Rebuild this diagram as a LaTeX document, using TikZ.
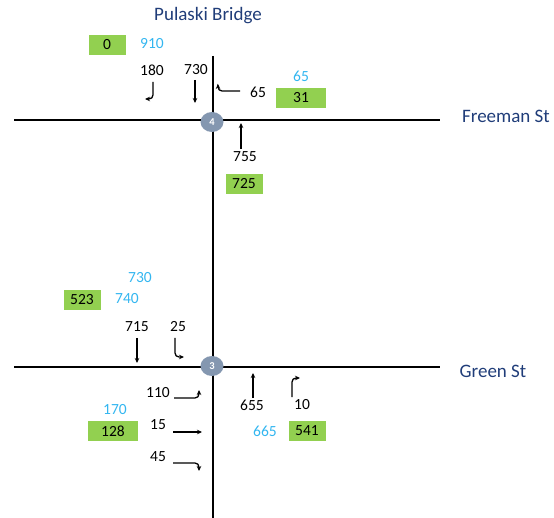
\documentclass[tikz,border=0pt]{standalone}
\usepackage{fontspec}
\setmainfont{Carlito}
\usetikzlibrary{arrows.meta, positioning, shapes.geometric}
\definecolor{streetblue}{HTML}{203D79}
\definecolor{countblue}{HTML}{33B6F0}
\definecolor{boxgreen}{HTML}{92D050}
\definecolor{nodegray}{HTML}{8497B0}

\begin{document}
\begin{tikzpicture}[x=1pt, y=-1pt,
    road/.style={line width=1.8pt},
    street/.style={text=streetblue, font=\fontsize{19}{22}\selectfont},
    count/.style={font=\fontsize{15.5}{17}\selectfont, inner sep=0pt},
    bluecount/.style={count, text=countblue},
    greenbox/.style={fill=boxgreen, minimum width=37pt, minimum height=20pt, inner sep=0pt, font=\fontsize{15.5}{17}\selectfont},
    widebox/.style={greenbox, minimum width=50pt},
    junction/.style={ellipse, fill=nodegray, minimum width=23pt, minimum height=20pt, inner sep=0pt, text=white, font=\bfseries\fontsize{10.5}{11}\selectfont},
    turn/.style={-{Stealth[length=5pt, width=4.5pt]}, line width=1.3pt, rounded corners=4pt}
]
    \useasboundingbox (0,0) rectangle (554,518);

    % Roads
    \coordinate (nTop) at (213,56);
    \coordinate (nBot) at (213,518);
    \coordinate (fW) at (14,120);
    \coordinate (fE) at (440,120);
    \coordinate (gW) at (14,367);
    \coordinate (gE) at (440,367);
    \draw[road] (nTop) -- (nBot);
    \draw[road] (fW) -- (fE);
    \draw[road] (gW) -- (gE);

    \node[junction] (j4) at (212,122) {4};
    \node[junction] (j3) at (212,366) {3};

    % Street names
    \node[street] (pulaski) at (208,16) {Pulaski Bridge};
    \node[street] (freeman) at (506,116) {Freeman St};
    \node[street] (green) at (493,371) {Green St};

    % Freeman St intersection
    \node[greenbox] (b0) at (107,45) {0};
    \node[bluecount] (c910) at (152,44) {910};
    \node[count] (c180) at (152,70) {180};
    \node[count] (c730) at (196,70) {730};
    \node[count] (c65) at (258,92) {65};
    \node[bluecount] (c65b) at (301,76) {65};
    \node[widebox] (b31) at (301,98) {31};
    \node[count] (c755) at (245,157) {755};
    \node[greenbox] (b725) at (244,184) {725};

    \coordinate (a180s) at (153,82);
    \coordinate (a180m) at (153,99);
    \coordinate (a180e) at (145,99);
    \draw[turn] (a180s) -- (a180m) -- (a180e);
    \coordinate (a730s) at (195,80);
    \coordinate (a730e) at (195,103);
    \draw[turn] (a730s) -- (a730e);
    \coordinate (a65s) at (240,91);
    \coordinate (a65m) at (218,91);
    \coordinate (a65e) at (218,84);
    \draw[turn] (a65s) -- (a65m) -- (a65e);
    \coordinate (a755s) at (241,149);
    \coordinate (a755e) at (241,123);
    \draw[turn] (a755s) -- (a755e);

    % Green St intersection
    \node[bluecount] (c730b) at (140,278) {730};
    \node[bluecount] (c740) at (127,299) {740};
    \node[greenbox] (b523) at (82,300) {523};
    \node[count] (c715) at (137,327) {715};
    \node[count] (c25) at (178,327) {25};
    \node[count] (c110) at (158,393) {110};
    \node[bluecount] (c170) at (115,410) {170};
    \node[widebox] (b128) at (113,431) {128};
    \node[count] (c15) at (158,425) {15};
    \node[count] (c45) at (158,457) {45};
    \node[count] (c655) at (252,405) {655};
    \node[count] (c10) at (302,405) {10};
    \node[bluecount] (c665) at (265,431) {665};
    \node[greenbox] (b541) at (307,431) {541};

    \coordinate (a715s) at (137,338);
    \coordinate (a715e) at (137,363);
    \draw[turn] (a715s) -- (a715e);
    \coordinate (a25s) at (175,338);
    \coordinate (a25m) at (175,357);
    \coordinate (a25e) at (184,357);
    \draw[turn] (a25s) -- (a25m) -- (a25e);
    \coordinate (a110s) at (174,398);
    \coordinate (a110m) at (199,398);
    \coordinate (a110e) at (199,390);
    \draw[turn] (a110s) -- (a110m) -- (a110e);
    \coordinate (a15s) at (173,432);
    \coordinate (a15e) at (202,432);
    \draw[turn] (a15s) -- (a15e);
    \coordinate (a45s) at (173,463);
    \coordinate (a45m) at (199,463);
    \coordinate (a45e) at (199,471);
    \draw[turn] (a45s) -- (a45m) -- (a45e);
    \coordinate (a655s) at (253,398);
    \coordinate (a655e) at (253,373);
    \draw[turn] (a655s) -- (a655e);
    \coordinate (a10s) at (292,397);
    \coordinate (a10m) at (292,378);
    \coordinate (a10e) at (300,378);
    \draw[turn] (a10s) -- (a10m) -- (a10e);
\end{tikzpicture}
\end{document}
